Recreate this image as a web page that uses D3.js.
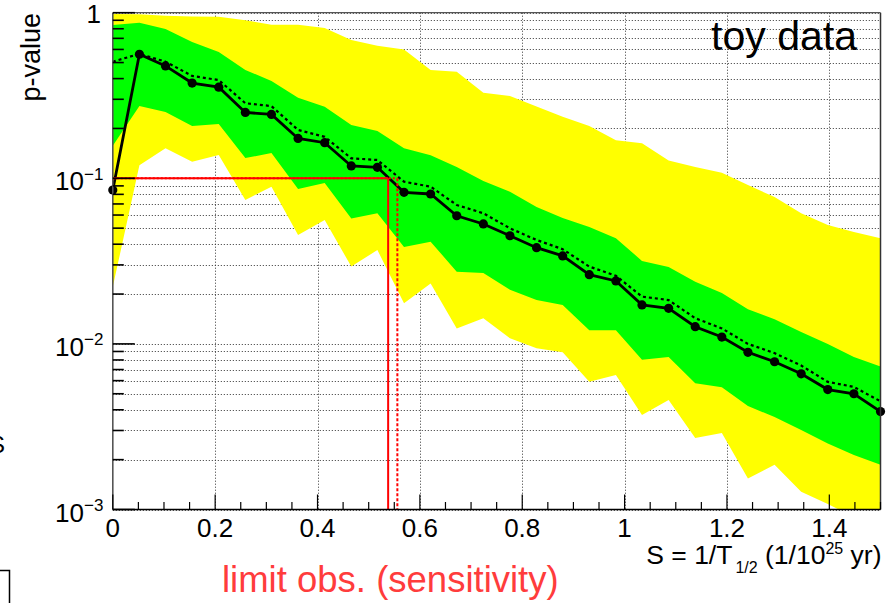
<!DOCTYPE html>
<html>
<head>
<meta charset="utf-8">
<script src="https://cdn.jsdelivr.net/npm/d3@7"></script>
<style>
  html, body { margin: 0; padding: 0; background: #fff; }
  svg { display: block; font-family: "Liberation Sans", Arial, Helvetica, sans-serif; }
</style>
</head>
<body>
<svg id="chart" width="895" height="603"></svg>
<script>
// ---------------- data ----------------
const sValues = [0, 0.052, 0.103, 0.155, 0.207, 0.259, 0.310, 0.362, 0.414, 0.466,
                 0.517, 0.569, 0.621, 0.672, 0.724, 0.776, 0.828, 0.879, 0.931, 0.983,
                 1.034, 1.086, 1.138, 1.190, 1.241, 1.293, 1.345, 1.397, 1.448, 1.5];
const observed = [0.085, 0.561, 0.477, 0.376, 0.355, 0.250, 0.243, 0.174, 0.164, 0.1187,
                  0.1165, 0.0823, 0.0804, 0.0594, 0.053, 0.045, 0.0381, 0.034, 0.0262, 0.024,
                  0.0172, 0.0164, 0.0127, 0.0110, 0.0089, 0.0078, 0.0066, 0.0053, 0.0050, 0.0039];
const expectedMedian = [0.506, 0.564, 0.506, 0.415, 0.392, 0.284, 0.273, 0.196, 0.178, 0.132,
                  0.129, 0.0954, 0.089, 0.069, 0.0615, 0.0499, 0.0424, 0.0373, 0.0293, 0.0258,
                  0.0193, 0.0184, 0.0143, 0.0124, 0.0100, 0.0088, 0.0074, 0.0059, 0.0055, 0.0045];
const band1Upper = [0.842, 0.870, 0.796, 0.665, 0.580, 0.451, 0.387, 0.307, 0.270, 0.210,
                  0.193, 0.152, 0.138, 0.117, 0.0963, 0.0830, 0.0671, 0.0576, 0.0508, 0.0435,
                  0.0317, 0.0291, 0.0237, 0.0203, 0.0162, 0.0141, 0.0118, 0.0100, 0.00833, 0.0073];
const band1Lower = [0.157, 0.273, 0.251, 0.207, 0.213, 0.1326, 0.142, 0.0862, 0.0937, 0.0572,
                  0.0615, 0.0385, 0.0414, 0.0273, 0.0268, 0.0212, 0.0184, 0.0172, 0.0121, 0.0121,
                  0.00801, 0.00834, 0.00578, 0.00548, 0.00421, 0.00362, 0.00302, 0.0025, 0.00213, 0.00186];
const band2Upper = [0.982, 0.980, 0.960, 0.950, 0.945, 0.900, 0.847, 0.845, 0.808, 0.685,
                  0.631, 0.600, 0.451, 0.440, 0.329, 0.314, 0.271, 0.235, 0.207, 0.170,
                  0.163, 0.128, 0.117, 0.108, 0.091, 0.077, 0.0615, 0.0522, 0.0474, 0.0434];
const band2Lower = [0.0221, 0.120, 0.152, 0.126, 0.1382, 0.0740, 0.0890, 0.0455, 0.056, 0.0293,
                  0.0369, 0.0176, 0.0232, 0.0124, 0.0143, 0.0108, 0.0094, 0.0089, 0.0059, 0.00648,
                  0.00372, 0.00459, 0.00270, 0.00290, 0.00154, 0.00186, 0.00128, 0.00108, 0.0009, 0.0008];
const pThreshold = 0.1;
const limitObserved = 0.538;
const limitExpected = 0.556;
const xTickValues = [0, 0.2, 0.4, 0.6, 0.8, 1, 1.2, 1.4];
const xTickLabels = ["0", "0.2", "0.4", "0.6", "0.8", "1", "1.2", "1.4"];
const yTickValues = [1, 0.1, 0.01, 0.001];
const yTickBase = ["1", "10", "10", "10"];
const yTickExp = ["", "\u22121", "\u22122", "\u22123"];

// ---------------- layout ----------------
(function () {
const svg = d3.select("#chart");
const L = 112.8, R = 880.5, T = 12.7, B = 509.5;
const x = d3.scaleLinear().domain([0, 1.5]).range([L, R]);
const y = d3.scaleLog().domain([0.001, 1]).range([B, T]);

svg.append("defs").append("clipPath").attr("id", "plotClip")
  .append("rect").attr("x", L).attr("y", T).attr("width", R - L).attr("height", B - T);

const pts = sValues.map((s, i) => ({
  s, obs: observed[i], med: expectedMedian[i],
  u1: band1Upper[i], l1: band1Lower[i], u2: band2Upper[i], l2: band2Lower[i]
}));

// grid
const grid = svg.append("g").attr("stroke", "#000").attr("stroke-width", 1)
  .attr("stroke-dasharray", "1,2").attr("opacity", 0.8);
grid.selectAll("line.h").data(y.ticks()).join("line").attr("class", "h")
  .attr("x1", L).attr("x2", R)
  .attr("y1", d => Math.round(y(d)) + 0.5).attr("y2", d => Math.round(y(d)) + 0.5);
grid.selectAll("line.v").data(xTickValues.filter(d => d > 0)).join("line").attr("class", "v")
  .attr("y1", T).attr("y2", B)
  .attr("x1", d => Math.round(x(d)) + 0.5).attr("x2", d => Math.round(x(d)) + 0.5);

// bands
const plot = svg.append("g").attr("clip-path", "url(#plotClip)");
plot.append("path").datum(pts)
  .attr("fill", "#ffff00")
  .attr("d", d3.area().x(d => x(d.s)).y0(d => y(d.l2)).y1(d => y(d.u2)));
plot.append("path").datum(pts)
  .attr("fill", "#00ff00")
  .attr("d", d3.area().x(d => x(d.s)).y0(d => y(d.l1)).y1(d => y(d.u1)));

// expected median (dotted)
plot.append("path").datum(pts)
  .attr("fill", "none").attr("stroke", "#000").attr("stroke-width", 2.2)
  .attr("stroke-dasharray", "3,3")
  .attr("d", d3.line().x(d => x(d.s)).y(d => y(d.med)));

// observed (solid + markers)
plot.append("path").datum(pts)
  .attr("fill", "none").attr("stroke", "#000").attr("stroke-width", 2.8)
  .attr("d", d3.line().x(d => x(d.s)).y(d => y(d.obs)));
svg.append("g").selectAll("circle").data(pts).join("circle")
  .attr("cx", d => x(d.s)).attr("cy", d => y(d.obs)).attr("r", 4.6).attr("fill", "#000");

// red limit lines
const red = svg.append("g").attr("stroke", "#ff0000").attr("stroke-width", 2).attr("fill", "none");
red.append("line").attr("x1", x(0)).attr("x2", x(limitExpected))
  .attr("y1", y(pThreshold)).attr("y2", y(pThreshold)).attr("stroke-dasharray", "2,2");
red.append("line").attr("x1", x(limitExpected)).attr("x2", x(limitExpected))
  .attr("y1", y(pThreshold)).attr("y2", B).attr("stroke-dasharray", "3,2");
red.append("line").attr("x1", x(0)).attr("x2", x(limitObserved))
  .attr("y1", y(pThreshold)).attr("y2", y(pThreshold));
red.append("line").attr("x1", x(limitObserved)).attr("x2", x(limitObserved))
  .attr("y1", y(pThreshold)).attr("y2", B);

// frame & axes
svg.append("line").attr("x1", L).attr("x2", R).attr("y1", T).attr("y2", T)
  .attr("stroke", "#555").attr("stroke-width", 1.2);
svg.append("line").attr("x1", R).attr("x2", R).attr("y1", T).attr("y2", B)
  .attr("stroke", "#333").attr("stroke-width", 1.5);
svg.append("line").attr("x1", L).attr("x2", L).attr("y1", T).attr("y2", B)
  .attr("stroke", "#555").attr("stroke-width", 1.6);
svg.append("line").attr("x1", L).attr("x2", R).attr("y1", B).attr("y2", B)
  .attr("stroke", "#000").attr("stroke-width", 1.6);

// y ticks
svg.append("g").attr("stroke", "#000").attr("stroke-width", 1.6)
  .selectAll("line").data(y.ticks()).join("line")
  .attr("x1", L).attr("x2", d => L + (yTickValues.includes(d) ? 22 : 11))
  .attr("y1", d => y(d)).attr("y2", d => y(d));
// x ticks (major and minor)
const xMinor = d3.range(0, 31).map(i => i * 0.05);
svg.append("g").attr("stroke", "#000").attr("stroke-width", 1.2)
  .selectAll("line").data(xMinor).join("line")
  .attr("x1", d => x(d)).attr("x2", d => x(d))
  .attr("y1", B)
  .attr("y2", d => B - (Math.abs(d / 0.2 - Math.round(d / 0.2)) < 1e-6 ? 15 : 7.5));

// x tick labels
svg.append("g").selectAll("text").data(xTickValues).join("text")
  .attr("x", d => x(d)).attr("y", 537).attr("text-anchor", "middle")
  .attr("font-size", 26).attr("fill", "#000")
  .text((d, i) => xTickLabels[i]);

// y tick labels
yTickValues.forEach((v, i) => {
  const ty = y(v);
  if (yTickExp[i] === "") {
    svg.append("text").attr("x", 101).attr("y", ty + 10.5).attr("text-anchor", "end")
      .attr("font-size", 26).text(yTickBase[i]);
  } else {
    svg.append("text").attr("x", 84).attr("y", ty + 12).attr("text-anchor", "end")
      .attr("font-size", 26).text(yTickBase[i]);
    svg.append("text").attr("x", 84).attr("y", ty + 1.5).attr("text-anchor", "start")
      .attr("font-size", 17).text(yTickExp[i]);
  }
});

// axis titles
svg.append("text").attr("transform", "translate(39.5,13) rotate(-90)")
  .attr("text-anchor", "end").attr("font-size", 27).text("p-value");

const xt = svg.append("text").attr("x", 881.5).attr("y", 564).attr("text-anchor", "end")
  .attr("font-size", 26.5);
xt.append("tspan").text("S = 1/T");
xt.append("tspan").attr("dx", 3).attr("dy", 9).attr("font-size", 16).text("1/2");
xt.append("tspan").attr("dy", -9).text(" (1/10");
xt.append("tspan").attr("dy", -10).attr("font-size", 16).text("25");
xt.append("tspan").attr("dy", 10).text(" yr)");

svg.append("text").attr("x", 857).attr("y", 50).attr("text-anchor", "end")
  .attr("font-size", 41).text("toy data");

svg.append("text").attr("x", 222).attr("y", 592).attr("font-size", 36.5)
  .attr("fill", "#ff3c3c").text("limit obs. (sensitivity)");

// leftover fragments at the left edge
svg.append("text").attr("x", 5).attr("y", 453).attr("text-anchor", "end")
  .attr("font-size", 24).text("S");
svg.append("path").attr("d", "M0,570.5 H9.5 V603").attr("fill", "none")
  .attr("stroke", "#000").attr("stroke-width", 1.5);
})();
</script>
</body>
</html>
